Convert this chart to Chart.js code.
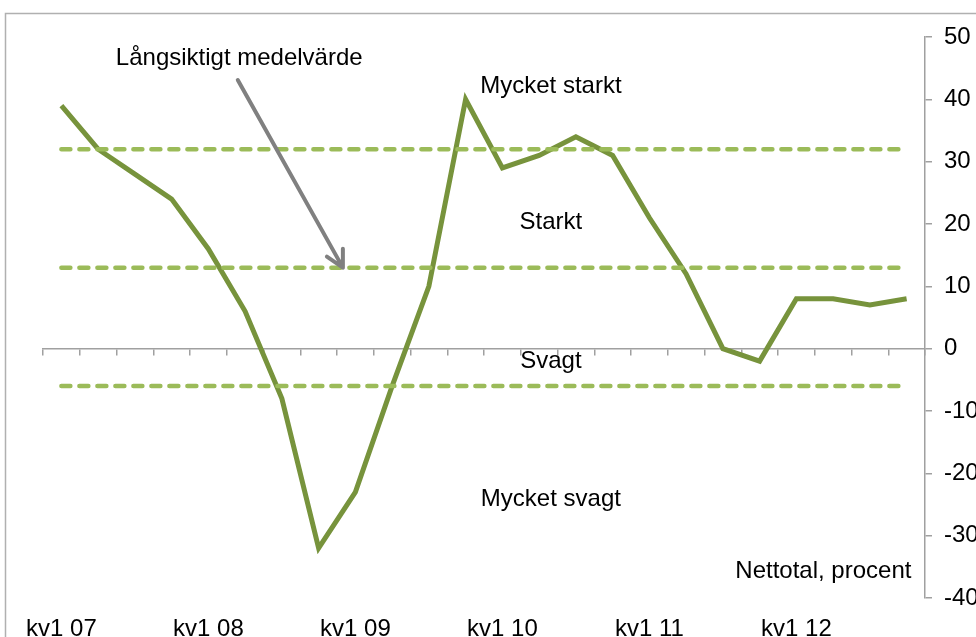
<!DOCTYPE html>
<html>
<head>
<meta charset="utf-8">
<script src="https://cdn.jsdelivr.net/npm/chart.js@4.4.1/dist/chart.umd.min.js"></script>
<style>
  html, body { margin: 0; padding: 0; background: #fff; overflow: hidden; }
  #wrap { position: absolute; left: 0; top: 0; width: 1010px; height: 637px; }
</style>
</head>
<body>
<div id="wrap"><canvas id="c" width="1010" height="637"></canvas></div>
<script>
// Quarters kv1 07 .. kv4 12
const quarters = [
  'kv1 07','kv2 07','kv3 07','kv4 07',
  'kv1 08','kv2 08','kv3 08','kv4 08',
  'kv1 09','kv2 09','kv3 09','kv4 09',
  'kv1 10','kv2 10','kv3 10','kv4 10',
  'kv1 11','kv2 11','kv3 11','kv4 11',
  'kv1 12','kv2 12','kv3 12','kv4 12'
];
// Nettotal, procent
const nettotal = [39, 32, 28, 24, 16, 6, -8, -32, -23, -6, 10, 40,
                  29, 31, 34, 31, 21, 12, 0, -2, 8, 8, 7, 8];
// Threshold levels (Mycket starkt / Starkt, medelvärde, Svagt / Mycket svagt)
const levelHigh = 32;
const levelMean = 13;
const levelLow = -6;
const yTicks = { min: -40, max: 50, step: 10 };

const FONT = '"Liberation Sans", Arial, sans-serif';
const lineGreen = '#77933C';
const dashGreen = '#9BBB59';
const axisGray = '#a0a0a0';

const flat = v => quarters.map(() => v);

const refDataset = (v) => ({
  data: flat(v),
  borderColor: dashGreen,
  borderWidth: 4.5,
  borderDash: [9, 9],
  borderCapStyle: 'round',
  pointRadius: 0,
  fill: false,
  tension: 0
});

const frame = {
  id: 'frame',
  beforeDraw(chart) {
    const ctx = chart.ctx;
    ctx.save();
    ctx.strokeStyle = '#b0b0b0';
    ctx.lineWidth = 1.5;
    ctx.beginPath();
    ctx.moveTo(5.5, 700);
    ctx.lineTo(5.5, 13.5);
    ctx.lineTo(1010, 13.5);
    ctx.stroke();
    ctx.restore();
  }
};

const notes = {
  id: 'notes',
  afterDraw(chart) {
    const ctx = chart.ctx;
    const x = chart.scales.x, y = chart.scales.y;
    ctx.save();
    // arrow to long-term mean
    const x0 = x.getPixelForValue(4.8), y0 = y.getPixelForValue(43.1);
    const x1 = x.getPixelForValue(7.66), y1 = y.getPixelForValue(levelMean);
    ctx.strokeStyle = '#808080';
    ctx.lineWidth = 4;
    ctx.lineCap = 'round';
    ctx.lineJoin = 'round';
    ctx.beginPath();
    ctx.moveTo(x0, y0); ctx.lineTo(x1, y1);
    ctx.moveTo(x1, y1 - 19); ctx.lineTo(x1, y1); ctx.lineTo(x1 - 16, y1 - 11);
    ctx.stroke();

    ctx.fillStyle = '#000';
    ctx.font = '24px ' + FONT;
    ctx.textBaseline = 'middle';
    ctx.textAlign = 'center';
    ctx.fillText('Långsiktigt medelvärde', x.getPixelForValue(4.84), y.getPixelForValue(46.5));
    const cx = x.getPixelForValue(13.32);
    ctx.fillText('Mycket starkt', cx, y.getPixelForValue(42));
    ctx.fillText('Starkt', cx, y.getPixelForValue(20.2));
    ctx.fillText('Svagt', cx, y.getPixelForValue(-2.1));
    ctx.fillText('Mycket svagt', cx, y.getPixelForValue(-24.2));
    ctx.textAlign = 'right';
    ctx.fillText('Nettotal, procent', x.getPixelForValue(23.13), y.getPixelForValue(-35.7));
    ctx.restore();
  }
};

new Chart(document.getElementById('c'), {
  type: 'line',
  data: {
    labels: quarters,
    datasets: [
      refDataset(levelHigh),
      refDataset(levelMean),
      refDataset(levelLow),
      {
        data: nettotal,
        borderColor: lineGreen,
        borderWidth: 5,
        borderJoinStyle: 'miter',
        pointRadius: 0,
        fill: false,
        tension: 0
      }
    ]
  },
  options: {
    responsive: false,
    animation: false,
    events: [],
    layout: { padding: { left: 43, top: 37, right: 0, bottom: 0 } },
    plugins: { legend: { display: false }, tooltip: { enabled: false } },
    scales: {
      x: {
        type: 'category',
        position: { y: 0 },
        offset: true,
        grid: { display: true, offset: true, drawOnChartArea: false, drawTicks: true, tickLength: 6, color: axisGray, lineWidth: 1.5 },
        border: { display: true, color: axisGray, width: 1.5 },
        ticks: { display: false }
      },
      x2: {
        type: 'category',
        position: 'bottom',
        labels: quarters,
        offset: true,
        grid: { display: false, drawTicks: false },
        border: { display: false },
        ticks: {
          autoSkip: false, maxRotation: 0, minRotation: 0, padding: 17,
          color: '#000', font: { family: FONT, size: 24 },
          callback: function (v, i) { const l = quarters[i]; return l.startsWith('kv1') ? l : ''; }
        },
        afterFit: s => { s.height = 39; }
      },
      y: {
        position: 'right',
        min: yTicks.min, max: yTicks.max,
        grid: { drawOnChartArea: false, drawTicks: true, tickLength: 7, color: axisGray, lineWidth: 1.5 },
        border: { display: true, color: axisGray, width: 1.5 },
        ticks: { stepSize: yTicks.step, padding: 12, color: '#000', font: { family: FONT, size: 24 } },
        afterFit: s => { s.width = 85; }
      }
    }
  },
  plugins: [frame, notes]
});
</script>
</body>
</html>
